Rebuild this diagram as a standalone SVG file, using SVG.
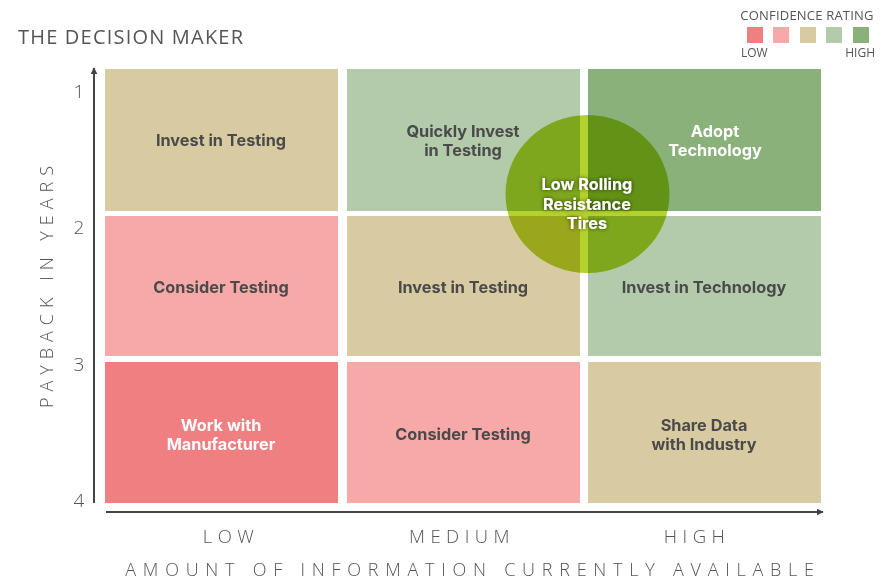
<svg xmlns="http://www.w3.org/2000/svg" width="888" height="579" viewBox="0 0 888 579">
  <defs>
    <marker id="arrow" viewBox="0 0 10 10" refX="9" refY="5" markerWidth="7" markerHeight="7" orient="auto-start-reverse" markerUnits="userSpaceOnUse">
      <path d="M0,0 L10,5 L0,10 z" fill="#444"/>
    </marker>
    <filter id="glow" x="-20%" y="-40%" width="140%" height="180%">
      <feGaussianBlur in="SourceAlpha" stdDeviation="2"/>
      <feComponentTransfer><feFuncA type="linear" slope="0.7"/></feComponentTransfer>
      <feMerge><feMergeNode/><feMergeNode in="SourceGraphic"/></feMerge>
    </filter>
    <style>
      .axislbl { font-family: "Open Sans", "Liberation Sans", sans-serif; font-weight: 300; fill: #555; }
      .cell text { font-family: Inter, "Liberation Sans", sans-serif; font-weight: 700; font-size: 16.3px; text-anchor: middle; fill: #4a4a4a; }
      .cell text.w { fill: #fff; }
      .beige { fill: #d9cba1; }
      .lgreen { fill: #b3cbaa; }
      .dgreen { fill: #8bb17b; }
      .pink { fill: #f7a9a8; }
      .red { fill: #ef7f80; }
      .axis { stroke: #444; stroke-width: 2; fill: none; }
    </style>
  </defs>
  <rect width="888" height="579" fill="#fff"/>

  <!-- title -->
  <text x="18" y="44" class="axislbl" font-size="20" letter-spacing="1.2" style="font-weight:400">THE DECISION MAKER</text>

  <!-- legend -->
  <g id="legend">
    <text x="807" y="20" class="axislbl" font-size="13" letter-spacing="0.2" text-anchor="middle" style="font-weight:400">CONFIDENCE RATING</text>
    <rect x="747" y="27" width="16" height="16" class="red"/>
    <rect x="773" y="27" width="16" height="16" class="pink"/>
    <rect x="800" y="27" width="16" height="16" class="beige"/>
    <rect x="826" y="27" width="16" height="16" class="lgreen"/>
    <rect x="853" y="27" width="16" height="16" class="dgreen"/>
    <text x="741" y="57" class="axislbl" font-size="12" style="font-weight:400">LOW</text>
    <text x="875" y="57" class="axislbl" font-size="12" text-anchor="end" style="font-weight:400">HIGH</text>
  </g>

  <!-- grid cells -->
  <g id="cell-r1c1" class="cell">
    <rect x="105" y="69" width="233" height="142" class="beige"/>
    <text x="221" y="146">Invest in Testing</text>
  </g>
  <g id="cell-r1c2" class="cell">
    <rect x="347" y="69" width="233" height="142" class="lgreen"/>
    <text x="463" y="137">Quickly Invest</text>
    <text x="463" y="156">in Testing</text>
  </g>
  <g id="cell-r1c3" class="cell">
    <rect x="588" y="69" width="233" height="142" class="dgreen"/>
    <text x="715" y="137" class="w">Adopt</text>
    <text x="715" y="156" class="w">Technology</text>
  </g>
  <g id="cell-r2c1" class="cell">
    <rect x="105" y="216" width="233" height="140" class="pink"/>
    <text x="221" y="293">Consider Testing</text>
  </g>
  <g id="cell-r2c2" class="cell">
    <rect x="347" y="216" width="233" height="140" class="beige"/>
    <text x="463" y="293">Invest in Testing</text>
  </g>
  <g id="cell-r2c3" class="cell">
    <rect x="588" y="216" width="233" height="140" class="lgreen"/>
    <text x="704" y="293">Invest in Technology</text>
  </g>
  <g id="cell-r3c1" class="cell">
    <rect x="105" y="362" width="233" height="141" class="red"/>
    <text x="221" y="431" class="w">Work with</text>
    <text x="221" y="450" class="w">Manufacturer</text>
  </g>
  <g id="cell-r3c2" class="cell">
    <rect x="347" y="362" width="233" height="141" class="pink"/>
    <text x="463" y="440">Consider Testing</text>
  </g>
  <g id="cell-r3c3" class="cell">
    <rect x="588" y="362" width="233" height="141" class="beige"/>
    <text x="704" y="431">Share Data</text>
    <text x="704" y="450">with Industry</text>
  </g>

  <!-- highlighted technology -->
  <g id="tires">
    <ellipse cx="587.5" cy="194" rx="82" ry="79" fill="#b4d22d" style="mix-blend-mode:multiply"/>
    <g filter="url(#glow)" font-family="Inter, 'Liberation Sans', sans-serif" font-weight="700" font-size="16.3" text-anchor="middle" fill="#fff">
      <text x="587" y="190">Low Rolling</text>
      <text x="587" y="210">Resistance</text>
      <text x="587" y="229">Tires</text>
    </g>
  </g>

  <!-- axes -->
  <g id="axes">
    <line x1="94" y1="503" x2="94" y2="68" class="axis" marker-end="url(#arrow)"/>
    <line x1="106" y1="512" x2="823" y2="512" class="axis" marker-end="url(#arrow)"/>
  </g>

  <!-- axis labels -->
  <g id="y-labels" class="axislbl" font-size="19" text-anchor="middle">
    <text x="79" y="98">1</text>
    <text x="79" y="234">2</text>
    <text x="79" y="371">3</text>
    <text x="79" y="507">4</text>
    <text transform="translate(53,284) rotate(-90)" font-size="18" letter-spacing="6">PAYBACK IN YEARS</text>
  </g>
  <g id="x-labels" class="axislbl" font-size="18.5" text-anchor="middle" letter-spacing="5.5">
    <text x="231" y="543">LOW</text>
    <text x="462" y="543">MEDIUM</text>
    <text x="697" y="543">HIGH</text>
    <text x="473" y="576" font-size="18" letter-spacing="6.75">AMOUNT OF INFORMATION CURRENTLY AVAILABLE</text>
  </g>
</svg>
